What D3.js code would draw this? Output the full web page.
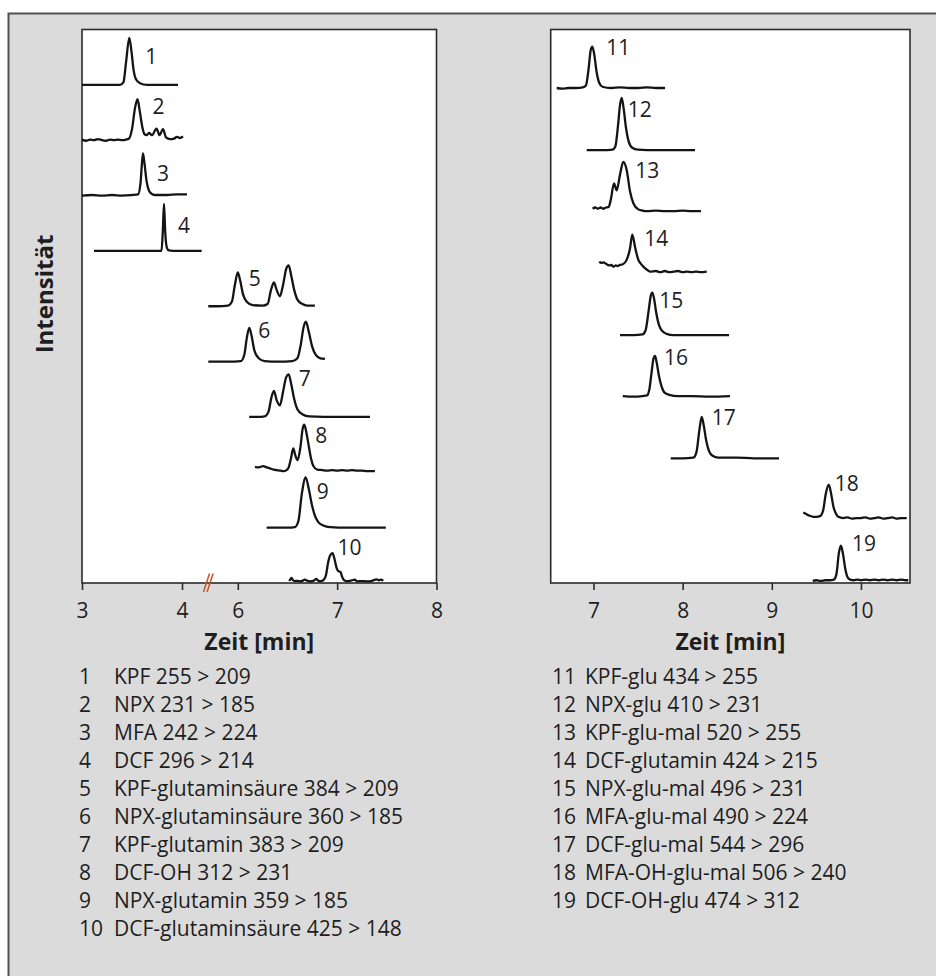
<!DOCTYPE html>
<html lang="de">
<head>
<meta charset="utf-8">
<title>Chromatogramme</title>
<script src="https://cdn.jsdelivr.net/npm/d3@7"></script>
<style>
  body { margin: 0; background: #fff; }
  svg text { font-family: "Open Sans", sans-serif; fill: #1e1e1e; }
</style>
</head>
<body>
<div id="chart"></div>
<script>
//////////////////////////////////////////////////////////
//------------- Daten : Chromatogramme (MRM) -------------
//////////////////////////////////////////////////////////

// jede Spur : [Zeit (min), Intensität (relativ, in Spurhöhen)]
const spur1 = [[3.00,0],[3.20,0],[3.38,0],[3.415,0.05],[3.44,0.4],[3.473,0.85],[3.495,0.6],[3.515,0.28],[3.54,0.1],[3.58,0.03],[3.65,0],[3.96,0]];
const spur2 = [[3.00,0.01],[3.04,-0.01],[3.08,0.01],[3.12,0],[3.16,0.02],[3.20,0],[3.24,-0.01],[3.28,0.01],[3.32,0],[3.36,0.01],[3.40,0],[3.44,0.01],[3.47,0.03],[3.50,0.2],[3.53,0.58],[3.555,0.74],[3.578,0.52],[3.603,0.24],[3.625,0.11],[3.645,0.09],[3.67,0.13],[3.70,0.09],[3.745,0.21],[3.775,0.09],[3.81,0.2],[3.84,0.05],[3.88,0.02],[3.92,0.03],[3.95,0.06],[3.98,0.04],[4.01,0.07]];
const spur3 = [[3.00,0],[3.10,0.01],[3.20,0],[3.30,0.01],[3.40,0],[3.50,0.01],[3.56,0.02],[3.585,0.22],[3.597,0.52],[3.61,0.76],[3.625,0.58],[3.645,0.27],[3.665,0.11],[3.69,0.04],[3.73,0.01],[3.85,0.01],[3.95,0.02],[4.05,0.02]];
const spur4 = [[3.12,0],[3.50,0],[3.795,0],[3.808,0.35],[3.82,0.85],[3.832,0.35],[3.847,0.07],[3.87,0.01],[3.95,0],[4.197,0]];
const spur5 = [[5.703,0],[5.80,0],[5.90,0.01],[5.94,0.08],[5.97,0.38],[6.00,0.61],[6.022,0.48],[6.052,0.22],[6.09,0.08],[6.15,0.02],[6.25,0.01],[6.30,0.04],[6.335,0.3],[6.364,0.43],[6.39,0.3],[6.424,0.18],[6.455,0.38],[6.488,0.68],[6.512,0.74],[6.537,0.56],[6.567,0.3],[6.60,0.12],[6.65,0.04],[6.70,0.01],[6.776,0.01]];
const spur6 = [[5.703,0],[5.90,0],[6.03,0.01],[6.065,0.12],[6.09,0.42],[6.115,0.61],[6.137,0.48],[6.167,0.2],[6.21,0.06],[6.27,0.01],[6.40,0],[6.55,0.01],[6.60,0.06],[6.635,0.32],[6.662,0.62],[6.686,0.72],[6.712,0.56],[6.747,0.28],[6.785,0.12],[6.83,0.06],[6.877,0.05]];
const spur7 = [[6.115,0],[6.20,0],[6.27,0.01],[6.31,0.1],[6.338,0.35],[6.364,0.47],[6.39,0.31],[6.424,0.21],[6.455,0.45],[6.487,0.72],[6.512,0.77],[6.537,0.6],[6.567,0.33],[6.60,0.14],[6.65,0.05],[6.72,0.01],[7.00,0],[7.33,0]];
const spur8 = [[6.173,0.1],[6.21,0.09],[6.256,0.11],[6.29,0.09],[6.324,0.07],[6.36,0.05],[6.39,0.04],[6.43,0.03],[6.46,0.02],[6.49,0.04],[6.51,0.08],[6.535,0.25],[6.558,0.43],[6.58,0.3],[6.602,0.22],[6.63,0.45],[6.652,0.78],[6.669,0.86],[6.69,0.72],[6.712,0.5],[6.737,0.25],[6.762,0.11],[6.80,0.05],[6.85,0.04],[6.90,0.03],[6.95,0.04],[7.00,0.03],[7.05,0.04],[7.10,0.03],[7.15,0.04],[7.20,0.03],[7.25,0.03],[7.30,0.02],[7.38,0.02]];
const spur9 = [[6.29,0],[6.50,0],[6.575,0.01],[6.61,0.12],[6.645,0.62],[6.683,0.91],[6.712,0.72],[6.745,0.42],[6.775,0.22],[6.81,0.1],[6.86,0.04],[6.93,0.01],[7.10,0],[7.49,0]];
const spur10 = [[6.518,0.035],[6.53,0.07],[6.542,0.09],[6.555,0.05],[6.575,0.035],[6.60,0.04],[6.625,0.03],[6.65,0.04],[6.676,0.06],[6.70,0.04],[6.726,0.03],[6.76,0.04],[6.793,0.075],[6.81,0.04],[6.835,0.035],[6.86,0.05],[6.887,0.14],[6.91,0.38],[6.93,0.5],[6.953,0.54],[6.975,0.42],[6.995,0.27],[7.015,0.21],[7.034,0.2],[7.05,0.11],[7.07,0.05],[7.09,0.035],[7.13,0.04],[7.178,0.06],[7.20,0.03],[7.25,0.035],[7.30,0.03],[7.35,0.04],[7.396,0.065],[7.42,0.05],[7.44,0.06],[7.464,0.04]];

const spur11 = [[6.587,0.01],[6.65,0],[6.72,0.01],[6.80,0.01],[6.88,0.02],[6.915,0.05],[6.945,0.32],[6.968,0.62],[6.987,0.68],[7.008,0.56],[7.035,0.27],[7.065,0.09],[7.10,0.03],[7.20,0.01],[7.30,0.02],[7.40,0.01],[7.50,0.01],[7.60,0.02],[7.70,0.01],[7.802,0.01]];
const spur12 = [[6.924,0],[7.10,0],[7.215,0.01],[7.245,0.06],[7.275,0.4],[7.298,0.74],[7.316,0.85],[7.338,0.68],[7.365,0.36],[7.395,0.14],[7.435,0.04],[7.50,0.01],[7.70,0],[8.139,0]];
const spur13 = [[6.99,0.05],[7.02,0.07],[7.05,0.05],[7.08,0.07],[7.11,0.05],[7.14,0.07],[7.17,0.08],[7.193,0.19],[7.23,0.46],[7.26,0.35],[7.297,0.6],[7.334,0.81],[7.372,0.68],[7.41,0.33],[7.447,0.14],[7.503,0.04],[7.55,0.02],[7.60,0.01],[7.70,0.02],[7.80,0.01],[7.90,0.01],[8.00,0.02],[8.10,0.01],[8.206,0.01]];
const spur14 = [[7.065,0.19],[7.09,0.17],[7.11,0.18],[7.148,0.15],[7.18,0.13],[7.20,0.14],[7.222,0.11],[7.25,0.13],[7.27,0.12],[7.297,0.14],[7.33,0.15],[7.372,0.22],[7.41,0.41],[7.435,0.63],[7.466,0.43],[7.503,0.22],[7.53,0.16],[7.559,0.11],[7.60,0.06],[7.634,0.03],[7.70,0.04],[7.75,0.02],[7.80,0.04],[7.85,0.02],[7.90,0.03],[7.95,0.04],[8.00,0.02],[8.05,0.03],[8.10,0.02],[8.15,0.03],[8.20,0.02],[8.27,0.03]];
const spur15 = [[7.297,0],[7.45,0],[7.55,0.01],[7.585,0.08],[7.617,0.38],[7.643,0.64],[7.66,0.69],[7.678,0.6],[7.705,0.35],[7.735,0.16],[7.775,0.06],[7.82,0.02],[7.90,0],[8.52,0]];
const spur16 = [[7.328,0.01],[7.45,0],[7.55,0.01],[7.60,0.02],[7.627,0.12],[7.652,0.4],[7.673,0.62],[7.69,0.66],[7.708,0.56],[7.735,0.33],[7.765,0.16],[7.80,0.06],[7.85,0.03],[7.95,0.01],[8.10,0.01],[8.30,0],[8.531,0.01]];
const spur17 = [[7.866,0],[8.00,0],[8.12,0.01],[8.155,0.1],[8.187,0.45],[8.214,0.67],[8.238,0.52],[8.265,0.28],[8.295,0.12],[8.335,0.04],[8.40,0.01],[8.60,0.01],[8.80,0],[9.081,0]];
const spur18 = [[9.353,0.12],[9.38,0.1],[9.42,0.07],[9.466,0.05],[9.50,0.05],[9.54,0.06],[9.575,0.15],[9.605,0.42],[9.638,0.57],[9.662,0.45],[9.692,0.21],[9.72,0.1],[9.746,0.05],[9.80,0.03],[9.85,0.04],[9.90,0.02],[9.95,0.03],[10.00,0.03],[10.05,0.04],[10.10,0.02],[10.15,0.03],[10.20,0.04],[10.25,0.02],[10.30,0.03],[10.35,0.04],[10.40,0.02],[10.45,0.03],[10.513,0.03]];
const spur19 = [[9.459,0.01],[9.50,0.02],[9.55,0.01],[9.60,0.02],[9.65,0.02],[9.695,0.03],[9.725,0.12],[9.752,0.46],[9.776,0.58],[9.798,0.45],[9.825,0.2],[9.85,0.07],[9.88,0.03],[9.92,0.02],[9.96,0.03],[10.00,0.02],[10.05,0.03],[10.10,0.02],[10.15,0.03],[10.20,0.02],[10.25,0.03],[10.30,0.02],[10.35,0.03],[10.40,0.02],[10.45,0.03],[10.50,0.02],[10.531,0.02]];

const spurenLinks = [spur1, spur2, spur3, spur4, spur5, spur6, spur7, spur8, spur9, spur10];
const spurenRechts = [spur11, spur12, spur13, spur14, spur15, spur16, spur17, spur18, spur19];

// Zeit des Peaks, an dem die Nummer steht
const peakLinks = [3.473, 3.555, 3.61, 3.82, 6.00, 6.115, 6.512, 6.669, 6.683, 6.953];
const peakRechts = [6.987, 7.316, 7.334, 7.435, 7.66, 7.69, 8.214, 9.638, 9.776];

// Achsenbeschriftung
const ticksLinks = [3, 4, 6, 7, 8];
const ticksRechts = [7, 8, 9, 10];

// Legende
const legendeLinks = ["KPF 255 > 209", "NPX 231 > 185", "MFA 242 > 224", "DCF 296 > 214",
  "KPF-glutaminsäure 384 > 209", "NPX-glutaminsäure 360 > 185", "KPF-glutamin 383 > 209",
  "DCF-OH 312 > 231", "NPX-glutamin 359 > 185", "DCF-glutaminsäure 425 > 148"];
const legendeRechts = ["KPF-glu 434 > 255", "NPX-glu 410 > 231", "KPF-glu-mal 520 > 255",
  "DCF-glutamin 424 > 215", "NPX-glu-mal 496 > 231", "MFA-glu-mal 490 > 224",
  "DCF-glu-mal 544 > 296", "MFA-OH-glu-mal 506 > 240", "DCF-OH-glu 474 > 312"];

//////////////////////////////////////////////////////////
//------------------- Aufbau SVG -------------------------
//////////////////////////////////////////////////////////

const width = 936, height = 976;
const svg = d3.select("#chart").append("svg")
  .attr("width", width)
  .attr("height", height);

// grauer Kasten (nur oben + links sichtbar)
svg.append("rect")
  .attr("x", 8.5).attr("y", 13.5)
  .attr("width", width).attr("height", height)
  .style("fill", "#dcdbdc")
  .style("stroke", "#505050")
  .style("stroke-width", 2);

// Verschiebung der Nummer gegenüber dem Peak (px : rechts, oben)
const nrVersatzLinks = [[16,11],[15,0],[14,13],[14,14],[11,-1],[9,-5],[10,-3],[11,3],[11,7],[5,-13]];
const nrVersatzRechts = [[14,-7],[6,4],[12,1],[12,-4],[7,0],[9,-6],[10,-7],[6,-9],[11,-10]];

const oben = 29.5, unten = 583;

// Skalen : links mit Achsenbruch zwischen 4 und 6 min
const xLinks = d3.scaleLinear().domain([3, 4.26, 5.7, 8]).range([82, 208, 208, 436.5]);
const yLinks = d3.scaleLinear().domain([0, 10]).range([unten, oben]);

const xRechts = d3.scaleLinear().domain([6.52, 10.55]).range([550.7, 910]);
const yRechts = d3.scaleLinear().domain([0, 9]).range([581.5, 27]);

function zeichnePanel(spuren, peaks, versatz, x, y, ticks) {
  const g = svg.append("g");
  const x0 = x.range()[0], x1 = x.range()[x.range().length - 1];

  g.append("rect")
    .attr("x", x0).attr("y", oben)
    .attr("width", x1 - x0).attr("height", unten - oben)
    .style("fill", "#fff")
    .style("stroke", "#2b2b2b")
    .style("stroke-width", 1.6);

  const n = spuren.length;
  spuren.forEach((spur, i) => {
    const ebene = n - 1 - i; // oberste Spur = höchste Ebene
    const linie = d3.line()
      .x(d => x(d[0]))
      .y(d => y(ebene + d[1]))
      .curve(d3.curveMonotoneX);

    g.append("path")
      .datum(spur)
      .attr("d", linie)
      .style("fill", "none")
      .style("stroke", "#141414")
      .style("stroke-width", 2.3)
      .style("stroke-linejoin", "round");

    // Nummer am Peak
    const p = spur.find(d => d[0] === peaks[i]);
    g.append("text")
      .attr("x", x(p[0]) + versatz[i][0])
      .attr("y", y(ebene + p[1]) + versatz[i][1] + 15)
      .style("font-size", "21px")
      .text(i + 1 + (n === 9 ? 10 : 0));
  });

  const achse = g.append("g")
    .attr("transform", "translate(0," + unten + ")")
    .call(d3.axisBottom(x).tickValues(ticks).tickSize(7).tickPadding(13).tickFormat(d3.format("d")));
  achse.select(".domain").remove();
  achse.selectAll(".tick line").style("stroke", "#2b2b2b").style("stroke-width", 1.6);
  achse.selectAll(".tick text")
    .style("font-family", "'Open Sans', sans-serif")
    .style("font-size", "21px")
    .style("fill", "#1e1e1e");

  g.append("text")
    .attr("x", (x0 + x1) / 2)
    .attr("y", 650)
    .attr("text-anchor", "middle")
    .style("font-size", "23px")
    .style("font-weight", "bold")
    .text("Zeit [min]");
  return g;
}

zeichnePanel(spurenLinks, peakLinks, nrVersatzLinks, xLinks, yLinks, ticksLinks);
zeichnePanel(spurenRechts, peakRechts, nrVersatzRechts, xRechts, yRechts, ticksRechts);

// Achsenbruch "//"
[0, 3.6].forEach(dx => {
  svg.append("line")
    .attr("x1", 203.5 + dx).attr("y1", 592)
    .attr("x2", 209.5 + dx).attr("y2", 573.5)
    .style("stroke", "#c8532c")
    .style("stroke-width", 1.5);
});

// y-Beschriftung
svg.append("text")
  .attr("transform", "translate(53,294) rotate(-90)")
  .attr("text-anchor", "middle")
  .style("font-size", "24px")
  .style("font-weight", "bold")
  .text("Intensität");

//------------------- Legende -------------------
function legende(eintraege, xNr, xText, start) {
  const lg = svg.append("g");
  eintraege.forEach((t, i) => {
    lg.append("text").attr("x", xNr).attr("y", 683.5 + i * 28)
      .style("font-size", "21px").text(start + i);
    lg.append("text").attr("x", xText).attr("y", 683.5 + i * 28)
      .style("font-size", "21px").text(t);
  });
}
legende(legendeLinks, 79, 114, 1);
legende(legendeRechts, 552, 585, 11);
</script>
</body>
</html>
